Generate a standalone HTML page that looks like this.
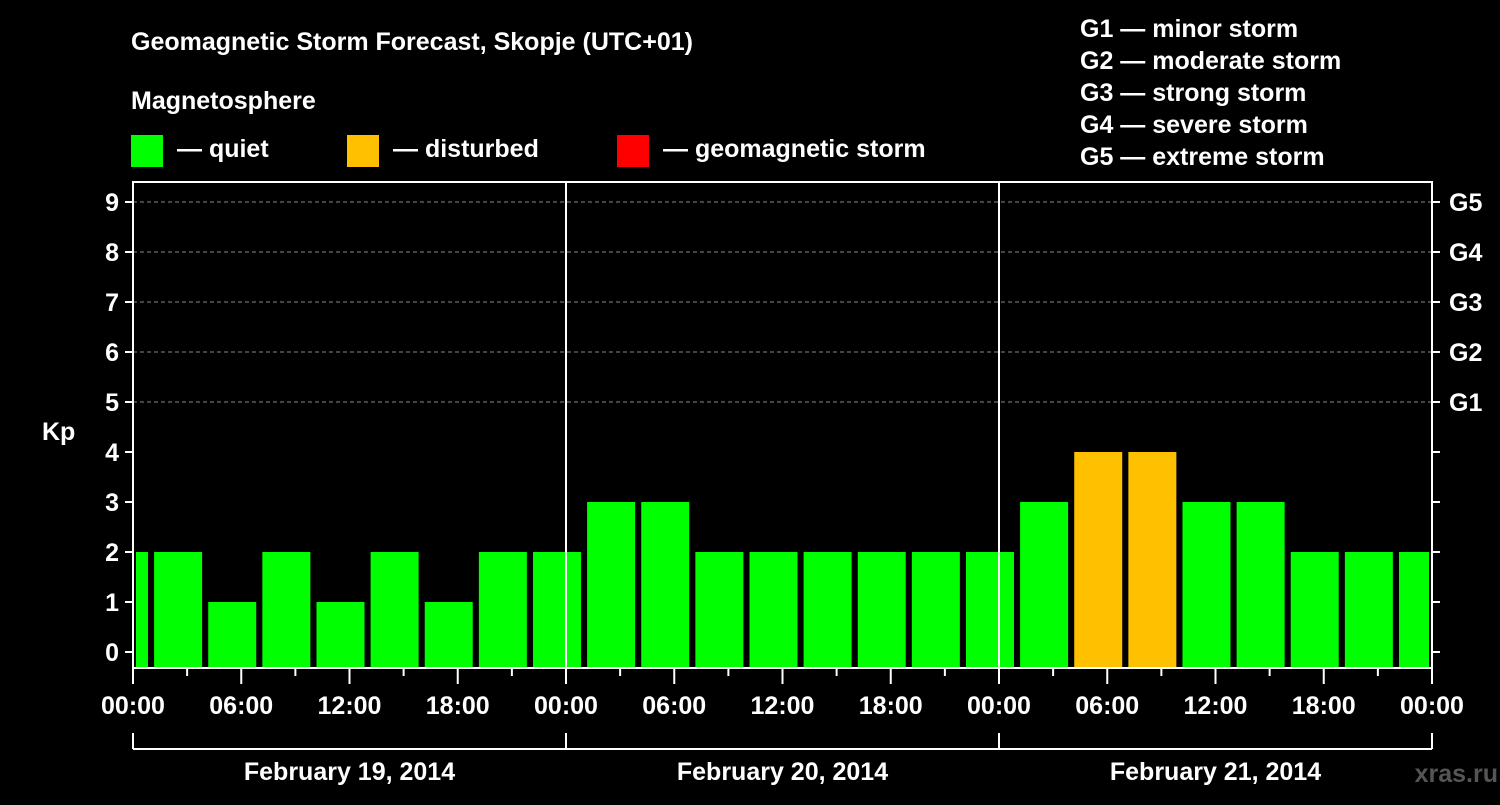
<!DOCTYPE html>
<html><head><meta charset="utf-8"><style>
body{margin:0;background:#000;width:1500px;height:800px;overflow:hidden;font-family:"Liberation Sans",Arial,sans-serif}
svg text{font-family:"Liberation Sans",Arial,sans-serif;font-weight:bold;fill:#fff}
</style></head><body>
<svg id="c" width="1500" height="800">
<text x="131" y="50" font-size="25">Geomagnetic Storm Forecast, Skopje (UTC+01)</text>
<text x="131" y="109" font-size="25">Magnetosphere</text>
<g><rect x="131" y="135" width="32" height="32" fill="#00ff00"/><text x="177" y="157" font-size="25">— quiet</text></g>
<g><rect x="347" y="135" width="32" height="32" fill="#ffc000"/><text x="393" y="157" font-size="25">— disturbed</text></g>
<g><rect x="617" y="135" width="32" height="32" fill="#ff0000"/><text x="663" y="157" font-size="25">— geomagnetic storm</text></g>
<g font-size="25">
<text x="1080" y="37">G1 — minor storm</text><text x="1080" y="69">G2 — moderate storm</text><text x="1080" y="101">G3 — strong storm</text><text x="1080" y="133">G4 — severe storm</text><text x="1080" y="165">G5 — extreme storm</text></g>
<text x="42" y="440" font-size="25">Kp</text>
<text x="1498" y="782" font-size="25" text-anchor="end" fill="#555" style="fill:#555">xras.ru</text>
<g id="plot"></g>
</svg>
<script>
const kpValues=[2,2,1,2,1,2,1,2,2,3,3,2,2,2,2,2,2,3,4,4,3,3,2,2,2];
const barHours=[-0.5,2.5,5.5,8.5,11.5,14.5,17.5,20.5,23.5,26.5,29.5,32.5,35.5,38.5,41.5,44.5,47.5,50.5,53.5,56.5,59.5,62.5,65.5,68.5,71.5];
const yTicks=[0,1,2,3,4,5,6,7,8,9];
const gLabels=["","","","","","G1","G2","G3","G4","G5"];
const xTickLabels=["00:00","06:00","12:00","18:00","00:00","06:00","12:00","18:00","00:00","06:00","12:00","18:00","00:00"];
const dayLabels=["February 19, 2014","February 20, 2014","February 21, 2014"];
const L=133,R=1432,T=182,B=668,H0=0,H1=72,Y0=-0.32,Y1=9.4;
const NS="http://www.w3.org/2000/svg";
const xs=h=>L+(h-H0)/(H1-H0)*(R-L);
const ys=v=>B-(v-Y0)/(Y1-Y0)*(B-T);
const g=document.getElementById('plot');
function mk(t,a){const e=document.createElementNS(NS,t);for(const k in a)e.setAttribute(k,a[k]);g.appendChild(e);return e;}
yTicks.forEach(v=>{if(v>=5){const l=mk('line',{x1:L,x2:R,y1:ys(v),y2:ys(v),stroke:'#888','stroke-dasharray':'4,3','stroke-width':1});

}});
kpValues.forEach((v,i)=>{const c=barHours[i];let x0=Math.max(xs(c-1.33),L+3),x1=Math.min(xs(c+1.33),R-3);
const r=mk('rect',{x:x0,y:ys(v),width:x1-x0,height:B-ys(v),fill:v>=5?'#ff0000':v>=4?'#ffc000':'#00ff00'});

});
[24,48].forEach(h=>{const l=mk('line',{x1:xs(h),x2:xs(h),y1:T,y2:B,stroke:'#fff','stroke-width':2});

});
const f=mk('rect',{x:L,y:T,width:R-L,height:B-T,fill:'none',stroke:'#fff','stroke-width':2});


yTicks.forEach((v,i)=>{const y=ys(v);
mk('line',{x1:L-8,x2:L,y1:y,y2:y,stroke:'#fff','stroke-width':2});
mk('line',{x1:R,x2:R+8,y1:y,y2:y,stroke:'#fff','stroke-width':2});
const t=mk('text',{x:L-14,y:y+9,'font-size':25,'text-anchor':'end'});t.textContent=v;


if(gLabels[i]){const t2=mk('text',{x:R+17,y:y+9,'font-size':25});t2.textContent=gLabels[i];

}});
for(let h=0;h<=72;h+=3){const x=xs(h);mk('line',{x1:x,x2:x,y1:B,y2:B+(h%6?8:16),stroke:'#fff','stroke-width':2});}
xTickLabels.forEach((s,i)=>{const t=mk('text',{x:xs(i*6),y:714,'font-size':25,'text-anchor':'middle'});t.textContent=s;

});
mk('line',{x1:xs(0),x2:xs(72),y1:749,y2:749,stroke:'#fff','stroke-width':2});
[0,24,48,72].forEach(h=>mk('line',{x1:xs(h),x2:xs(h),y1:733,y2:749,stroke:'#fff','stroke-width':2}));
dayLabels.forEach((s,i)=>{const t=mk('text',{x:xs(i*24+12),y:780,'font-size':25,'text-anchor':'middle'});t.textContent=s;

});
</script>
</body></html>
